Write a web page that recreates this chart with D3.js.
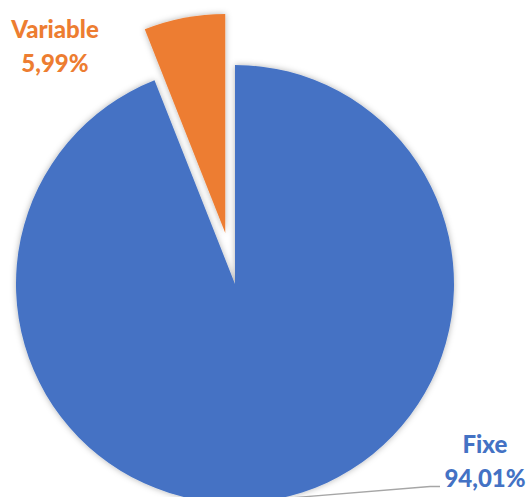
<!DOCTYPE html>
<html>
<head>
<meta charset="utf-8">
<script src="https://cdn.jsdelivr.net/npm/d3@7"></script>
<style>
  html, body { margin: 0; padding: 0; background: #fff; }
  svg { display: block; }
  text { font-family: Lato, "Open Sans", sans-serif; font-weight: 900; }
</style>
</head>
<body>
<svg id="chart" width="528" height="497"></svg>
<script>
const categories = ["Fixe", "Variable"];
const values = [94.01, 5.99];
const labels = ["94,01%", "5,99%"];
const colors = ["#4472C4", "#ED7D31"];

const svg = d3.select("#chart");
const cx = 235, cy = 284, r = 219;
const explode = [0, 52];

const defs = svg.append("defs");
const f = defs.append("filter").attr("id", "shadow")
  .attr("x", "-20%").attr("y", "-20%").attr("width", "140%").attr("height", "140%");
f.append("feDropShadow").attr("dx", 0).attr("dy", 0)
  .attr("stdDeviation", 3).attr("flood-color", "#000").attr("flood-opacity", 0.3);

const pie = d3.pie().sort(null).value(d => d)(values);
const arc = d3.arc().innerRadius(0).outerRadius(r);

const g = svg.append("g").attr("transform", `translate(${cx},${cy})`);

// leader line for the large slice label
const fixe = pie[0];
const mid0 = (fixe.startAngle + fixe.endAngle) / 2;
const p0 = [r * Math.sin(mid0), -r * Math.cos(mid0)];
g.append("polyline")
  .attr("points", [p0, [195, 202.5], [205, 202.5]].map(p => p.join(",")).join(" "))
  .attr("fill", "none").attr("stroke", "#A6A6A6").attr("stroke-width", 1.3);

g.selectAll("path.slice").data(pie).join("path")
  .attr("class", "slice")
  .attr("d", arc)
  .attr("fill", (d, i) => colors[i])
  .attr("filter", "url(#shadow)")
  .attr("transform", (d, i) => {
    const m = (d.startAngle + d.endAngle) / 2;
    return `translate(${explode[i] * Math.sin(m)},${-explode[i] * Math.cos(m)})`;
  });

// labels
const labelPos = [[485, 453, 487], [55, 38, 72]];
categories.forEach((c, i) => {
  const [x, y1, y2] = labelPos[i];
  svg.append("text").attr("x", x).attr("y", y1).attr("text-anchor", "middle")
    .attr("font-size", 24).attr("fill", colors[i]).text(c);
  svg.append("text").attr("x", x).attr("y", y2).attr("text-anchor", "middle")
    .attr("font-size", 24).attr("fill", colors[i]).text(labels[i]);
});
</script>
</body>
</html>
